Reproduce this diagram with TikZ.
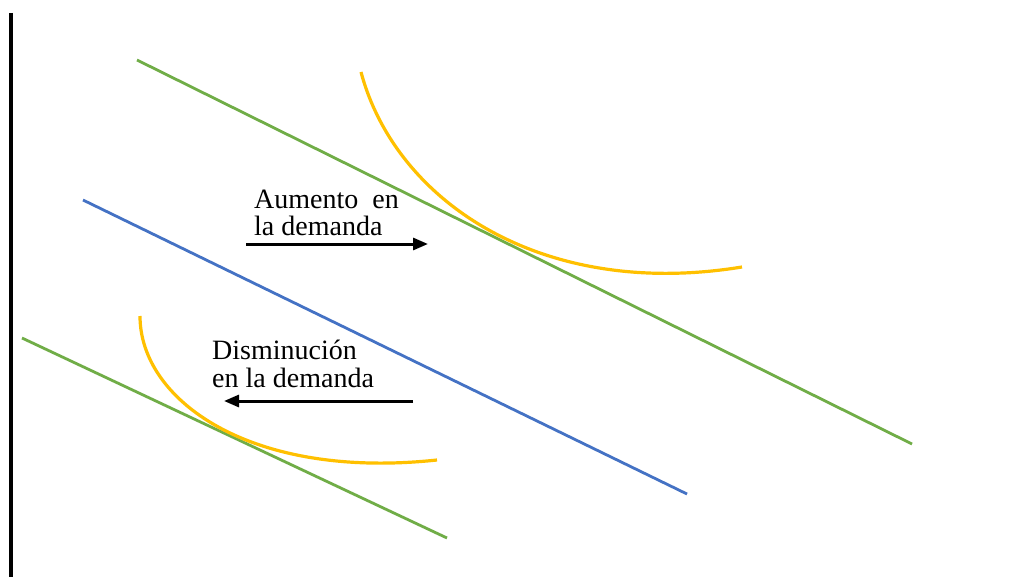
\documentclass[tikz,border=0pt]{standalone}
\usepackage{fontspec}
\setmainfont{Liberation Serif}
\usetikzlibrary{arrows.meta}
\definecolor{lgreen}{HTML}{70AD47}
\definecolor{lblue}{HTML}{4472C4}
\definecolor{lorange}{HTML}{FFC000}
\begin{document}
\begin{tikzpicture}[x=1pt,y=-1pt,
  curveline/.style={line width=2.8pt},
  lbl/.style={anchor=base west,align=left,inner sep=0pt,font=\fontsize{28}{27.5}\selectfont},
  arr/.style={line width=3pt,-{Triangle[length=15pt,width=12pt]}}]
\useasboundingbox (0,0) rectangle (1016,577);
% axis
\coordinate (ax1) at (11,13);
\coordinate (ax2) at (11,577);
\draw[line width=3.5pt] (ax1) -- (ax2);
% lines
\coordinate (g1a) at (137,60);  \coordinate (g1b) at (912,444);
\coordinate (ba) at (83,200);   \coordinate (bb) at (687,494);
\coordinate (g2a) at (22,338);  \coordinate (g2b) at (447,538);
\draw[curveline,lgreen] (g1a) -- (g1b);
\draw[curveline,lblue] (ba) -- (bb);
\draw[curveline,lgreen] (g2a) -- (g2b);
% indifference curves
\coordinate (o1a) at (361,72); \coordinate (o1b) at (742,267);
\draw[line width=3.2pt,lorange] (o1a) .. controls (395,200) and (540,300) .. (o1b);
\coordinate (o2a) at (140,316); \coordinate (o2b) at (437,460);
\draw[line width=3.2pt,lorange] (o2a) .. controls (140,400) and (250,480) .. (o2b);
% labels
\node[lbl] (t1) at (254,236) {Aumento\ \ en\\la demanda};
\node[lbl] (t2) at (212,387) {Disminución\\en la demanda};
% arrows
\coordinate (a1s) at (246,244); \coordinate (a1e) at (428,244);
\draw[arr] (a1s) -- (a1e);
\coordinate (a2s) at (413,401); \coordinate (a2e) at (224,401);
\draw[arr] (a2s) -- (a2e);
\end{tikzpicture}
\end{document}
